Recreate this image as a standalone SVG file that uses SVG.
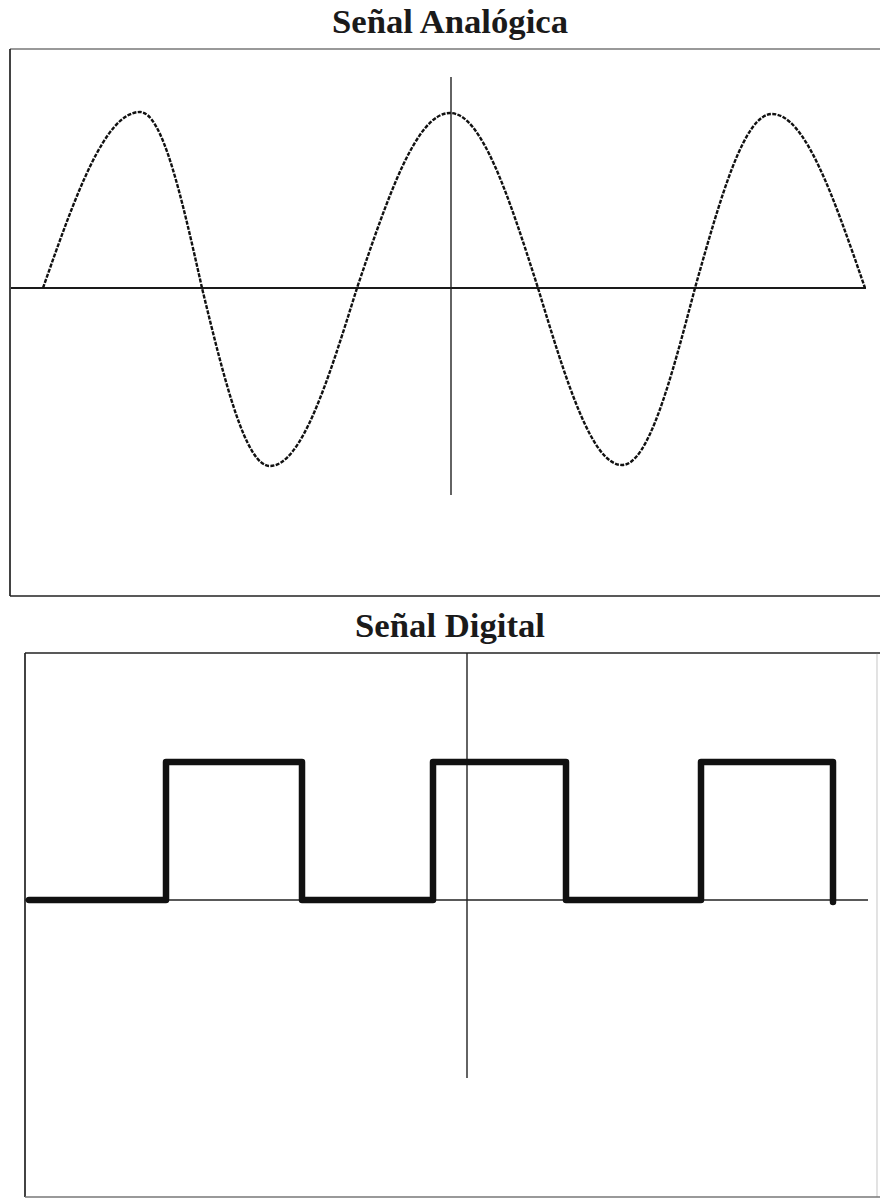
<svg xmlns="http://www.w3.org/2000/svg" width="880" height="1201" viewBox="0 0 880 1201">
  <style>
    .title { font-family: "Liberation Serif", "Times New Roman", serif; font-weight: bold; font-size: 33px; fill: #1a1a1a; text-anchor: middle; }
    .frame { fill: none; stroke: #222; stroke-width: 1.7; }
    .frame-light { fill: none; stroke: #777; stroke-width: 1.4; }
    .axis { fill: none; stroke: #1a1a1a; stroke-width: 2; }
    .axis-thin { fill: none; stroke: #222; stroke-width: 1.4; }
    .sine { fill: none; stroke: #111; stroke-width: 2.4; stroke-dasharray: 4 1.4; }
    .square { fill: none; stroke: #111; stroke-width: 6.5; stroke-linejoin: round; stroke-linecap: round; }
  </style>
  <rect width="880" height="1201" fill="#ffffff"/>

  <g id="analog-panel">
    <text class="title" x="450" y="33" textLength="236" lengthAdjust="spacingAndGlyphs">Señal Analógica</text>
    <line class="frame-light" x1="10" y1="49" x2="880" y2="49"/>
    <line class="frame" x1="10" y1="49" x2="10" y2="596"/>
    <line class="frame" x1="10" y1="596" x2="880" y2="596"/>
    <line class="axis" x1="11" y1="288" x2="866" y2="288"/>
    <line class="axis-thin" x1="451" y1="77" x2="451" y2="495"/>
    <path id="analog-wave" class="sine" d="M43,288
      C75.4,195.6 105.1,112 140,112
      C162.3,112 181.3,195.6 202,288
      C224.7,381.5 245.5,466 270,466
      C301.3,466 327.9,381.5 357,288
      C388.1,196.1 416.5,113 450,113
      C481.7,113 508.6,196.1 538,288
      C566.1,380.9 591.8,465 622,465
      C648.3,465 670.6,380.9 695,288
      C720.7,196.6 744.2,114 772,114
      C805.1,114 833.4,196.6 865,288"/>
  </g>

  <g id="digital-panel">
    <text class="title" x="450" y="637" textLength="190" lengthAdjust="spacingAndGlyphs">Señal Digital</text>
    <line class="frame" x1="25" y1="653" x2="880" y2="653"/>
    <line class="frame" x1="25" y1="653" x2="25" y2="1197"/>
    <line class="frame-light" x1="25" y1="1197" x2="880" y2="1197"/>
    <line class="frame-light" x1="877" y1="653" x2="877" y2="1197" stroke-opacity="0.3"/>
    <line class="axis-thin" x1="25" y1="900" x2="868" y2="900"/>
    <line class="axis-thin" x1="467" y1="653" x2="467" y2="1078"/>
    <path id="digital-wave" class="square" d="M29,900 H166 V762 H302 V900 H433 V762 H566 V900 H701 V762 H833 V902"/>
  </g>
</svg>
